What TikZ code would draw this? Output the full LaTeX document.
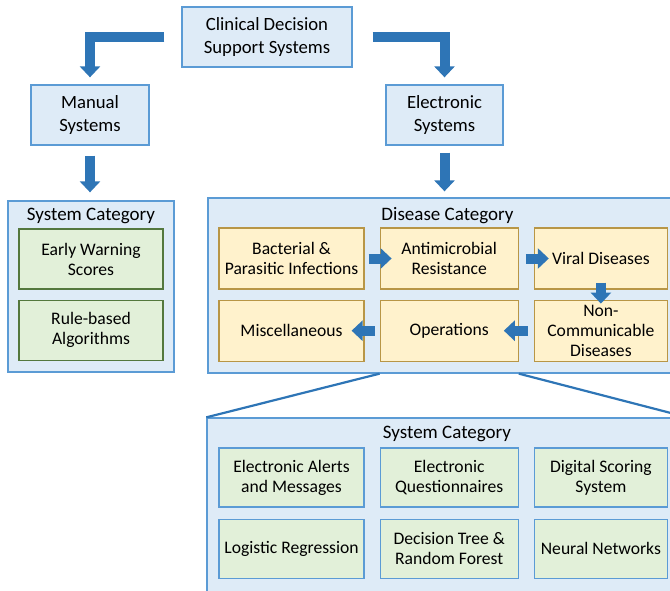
\documentclass[tikz,border=0pt]{standalone}
\usepackage{fontspec}
\setmainfont{Carlito}
\usetikzlibrary{positioning,arrows.meta}

\definecolor{lblue}{RGB}{222,235,247}
\definecolor{bedge}{RGB}{91,155,213}
\definecolor{barrow}{RGB}{46,117,182}
\definecolor{lgreen}{RGB}{226,240,217}
\definecolor{gedge}{RGB}{84,120,62}
\definecolor{lyellow}{RGB}{255,242,204}
\definecolor{yedge}{RGB}{184,150,70}

\begin{document}
\begin{tikzpicture}[x=1pt, y=-1pt,
  font=\fontsize{18.7}{23}\selectfont,
  top/.style={draw=bedge, line width=1.3pt, fill=lblue, align=center, minimum height=60pt, inner sep=0pt},
  cat/.style={draw=bedge, line width=1.3pt, fill=lblue, inner sep=0pt},
  ttl/.style={anchor=center, inner sep=0pt, font=\fontsize{19}{23}\selectfont},
  grn/.style={draw=gedge, line width=1.2pt, fill=lgreen, align=center, minimum width=144pt, minimum height=60pt, inner sep=0pt, font=\fontsize{17.6}{20}\selectfont},
  grnb/.style={grn, draw=bedge},
  ylw/.style={draw=yedge, line width=1.2pt, fill=lyellow, align=center, minimum height=61pt, inner sep=0pt, font=\fontsize{17.6}{20}\selectfont},
  arr/.style={draw=barrow, line width=10pt, -{Triangle[width=20pt,length=11pt]}},
  ln/.style={draw=barrow, line width=2.2pt}]
  \useasboundingbox (0,0) rectangle (670,591);

  % top level
  \node[top, minimum width=170pt] (cdss) at (267,37) {Clinical Decision\\Support Systems};
  \node[top, minimum width=118pt] (man) at (90,115) {Manual\\Systems};
  \node[top, minimum width=117pt] (ele) at (444.5,115) {Electronic\\Systems};

  \draw[arr] ([xshift=-17pt]cdss.west) -| ([yshift=7pt]man.north);
  \draw[arr] ([xshift=20pt]cdss.east) -| ([yshift=7pt]ele.north);

  % manual systems
  \node[cat, minimum width=166pt, minimum height=171pt] (msc) at (91,286.5) {};
  \node[ttl] (msc_label) at ([yshift=-16pt]msc.north) {System Category};
  \node[grn] (ews) at (91,259) {Early Warning\\Scores};
  \node[grn, below=10pt of ews] (rba) {Rule-based\\Algorithms};

  \draw[arr] ([yshift=-10pt]man.south) -- ([yshift=8pt]man.south |- msc.north);

  % electronic systems
  \node[cat, minimum width=479pt, minimum height=175pt] (dis) at (447.5,285.5) {};
  \node[ttl] (dis_label) at ([yshift=-18pt]dis.north) {Disease Category};
  \node[ylw, minimum width=145pt] (bac) at (291.5,258.5) {Bacterial \&\\Parasitic Infections};
  \node[ylw, minimum width=138pt, right=15pt of bac] (ami) {Antimicrobial\\Resistance};
  \node[ylw, minimum width=133pt, right=15pt of ami] (vir) {Viral Diseases};
  \node[ylw, minimum width=145pt, below=10pt of bac] (mis) {Miscellaneous};
  \node[ylw, minimum width=138pt, below=10pt of ami] (ops) {Operations};
  \node[ylw, minimum width=133pt, below=10pt of vir] (ncd) {Non-\\Communicable\\Diseases};

  \draw[arr] ([yshift=-7pt]ele.south) -- ([yshift=6pt]ele.south |- dis.north);

  \draw[arr] ([xshift=4pt]bac.east) -- ([xshift=12pt]ami.west);
  \draw[arr] ([xshift=7pt]ami.east) -- ([xshift=15pt]vir.west);
  \draw[arr] ([yshift=7pt]vir.south) -- ([yshift=-4pt]ncd.north);
  \draw[arr] ([xshift=-6pt]ncd.west) -- ([xshift=-15pt]ops.east);
  \draw[arr] ([xshift=-5pt]ops.west) -- ([xshift=-13pt]mis.east);

  % electronic system category
  \node[cat, minimum width=480pt, minimum height=182pt] (esc) at (447,509) {};
  \node[ttl] (esc_label) at ([yshift=-17pt]esc.north) {System Category};
  \node[grnb, minimum width=145pt, minimum height=59pt] (eam) at (291.5,477.5) {Electronic Alerts\\and Messages};
  \node[grnb, minimum width=138pt, minimum height=59pt, right=15pt of eam] (eqn) {Electronic\\Questionnaires};
  \node[grnb, minimum width=133pt, minimum height=59pt, right=15pt of eqn] (dss) {Digital Scoring\\System};
  \node[grnb, minimum width=145pt, minimum height=59pt, below=11pt of eam] (lgr) {Logistic Regression};
  \node[grnb, minimum width=138pt, minimum height=59pt, below=11pt of eqn] (dtr) {Decision Tree \&\\Random Forest};
  \node[grnb, minimum width=133pt, minimum height=59pt, below=11pt of dss] (nnw) {Neural Networks};

  \path[ln] (ami.west |- dis.south) -- (esc.north west);
  \path[ln] (ami.east |- dis.south) -- (esc.north east);
\end{tikzpicture}
\end{document}
